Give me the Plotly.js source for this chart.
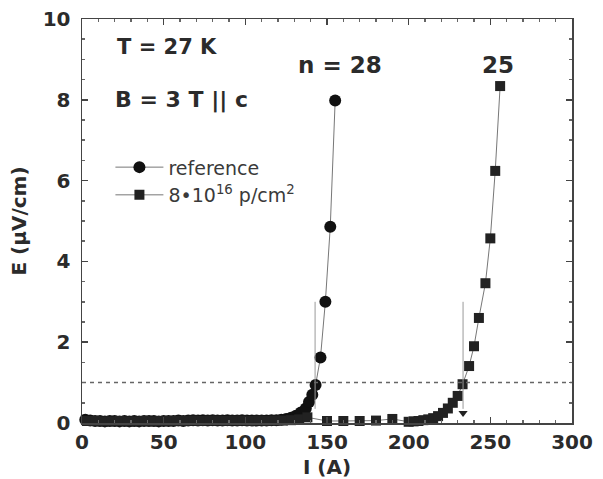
<!DOCTYPE html>
<html>
<head>
<meta charset="utf-8">
<script src="https://cdn.plot.ly/plotly-3.0.1.min.js"></script>
<style>html,body{margin:0;padding:0;background:#fff;}#chart{width:603px;height:479px;}</style>
</head>
<body>
<div id="chart"></div>
<script>
// Reference sample (circles)
var refI = [2,5,8,11,14,17,20,23,26,29,32,35,38,41,44,47,50,53,56,59,62,65,68,71,74,77,80,83,86,89,92,95,98,101,104,107,110,113,116,119,122,125,128,131,134,137,139,141,143,146,149,152,155];
var refE = [0.08,0.06,0.05,0.05,0.04,0.05,0.05,0.04,0.05,0.04,0.05,0.04,0.05,0.05,0.05,0.04,0.05,0.05,0.05,0.06,0.05,0.06,0.07,0.06,0.07,0.06,0.07,0.06,0.06,0.07,0.06,0.06,0.07,0.06,0.06,0.06,0.06,0.06,0.07,0.07,0.08,0.10,0.13,0.18,0.26,0.36,0.52,0.70,0.94,1.62,3.00,4.86,7.98];
// Irradiated sample 8e16 p/cm^2 (squares)
var irrI = [3,8,13,18,23,28,33,38,43,48,53,58,63,68,73,78,83,88,93,98,103,108,113,118,123,128,133,138,150,160,170,180,190,200,203,206,209,212,215,218,221,224,227,230,233,237,240,243,247,250,253,256];
var irrE = [0.05,0.05,0.04,0.04,0.05,0.04,0.04,0.05,0.04,0.05,0.05,0.05,0.05,0.06,0.05,0.06,0.06,0.05,0.06,0.06,0.05,0.06,0.05,0.06,0.06,0.07,0.09,0.14,0.05,0.05,0.05,0.06,0.10,0.03,0.04,0.05,0.07,0.09,0.12,0.17,0.25,0.36,0.50,0.67,0.96,1.41,1.90,2.60,3.46,4.57,6.24,8.34];
// Critical current markers
var icI = [142.7, 233.3];
var icTop = [3.0, 3.0];
var icBottom = [0.35, 0.35];
var arrowI = [233.3];
var arrowE = [0.25];
var criterionE = 1;

var legendNames = ['reference', '8\u202210<sup>16</sup> p/cm<sup>2</sup>'];
var labels = {n1: 'n = 28', n2: '25', T: 'T = 27 K', B: 'B = 3 T || c'};

var dark = '#2b2b2b';
var traces = [
  {x: refI, y: refE, name: legendNames[0], mode: 'lines+markers', cliponaxis: false,
   line: {color: '#777', width: 1}, marker: {symbol: 'circle', size: 12, color: '#111'}},
  {x: irrI, y: irrE, name: legendNames[1], mode: 'lines+markers', cliponaxis: false,
   line: {color: '#777', width: 1}, marker: {symbol: 'square', size: 10, color: '#222'}},
  {x: [icI[0], icI[0], null, icI[1], icI[1]], y: [icBottom[0], icTop[0], null, icBottom[1], icTop[1]],
   mode: 'lines', showlegend: false, hoverinfo: 'skip', line: {color: '#999', width: 1}},
  {x: arrowI, y: arrowE, mode: 'markers', showlegend: false, cliponaxis: false,
   marker: {symbol: 'triangle-down', size: 8, color: '#222'}}
];

var tickFont = {family: 'DejaVu Sans', size: 20, color: dark, weight: 'bold'};
var layout = {
  width: 603, height: 479,
  margin: {l: 82, r: 31, t: 19, b: 56},
  paper_bgcolor: '#fff', plot_bgcolor: '#fff',
  showlegend: true,
  legend: {x: 0.058, y: 0.68, xanchor: 'left', yanchor: 'top', bgcolor: 'rgba(0,0,0,0)', itemwidth: 48,
           font: {family: 'DejaVu Sans', size: 19, color: '#3a3a3a'}, tracegroupgap: 0},
  xaxis: {range: [0, 300], dtick: 50, tick0: 0, ticks: 'inside', ticklen: 6, tickwidth: 1.5, tickcolor: '#444',
          showline: true, linecolor: '#444', linewidth: 1.5, mirror: 'allticks', showgrid: false, zeroline: false,
          minor: {dtick: 10, ticks: 'inside', ticklen: 3, tickcolor: '#666', showgrid: false},
          tickfont: tickFont,
          title: {text: 'I (A)', font: {family: 'DejaVu Sans', size: 20, color: dark, weight: 'bold'}, standoff: 7}},
  yaxis: {range: [0, 10], dtick: 2, tick0: 0, ticks: 'inside', ticklen: 6, tickwidth: 1.5, tickcolor: '#444',
          showline: true, linecolor: '#444', linewidth: 1.5, mirror: 'allticks', showgrid: false, zeroline: false,
          minor: {dtick: 0.5, ticks: 'inside', ticklen: 3, tickcolor: '#666', showgrid: false},
          tickfont: tickFont, ticklabelstandoff: 6,
          title: {text: 'E (\u00b5V/cm)', font: {family: 'DejaVu Sans', size: 20, color: dark, weight: 'bold'}, standoff: 10}},
  shapes: [
    {type: 'line', xref: 'paper', x0: 0, x1: 1, yref: 'y', y0: criterionE, y1: criterionE,
     line: {color: '#666', width: 1.5, dash: '4px,4px'}}
  ],
  annotations: [
    {text: labels.T, xref: 'paper', yref: 'paper', x: 0.067, y: 0.93, xanchor: 'left', yanchor: 'middle', showarrow: false,
     font: {family: 'DejaVu Sans', size: 21, color: dark, weight: 'bold'}},
    {text: labels.B, xref: 'paper', yref: 'paper', x: 0.063, y: 0.80, xanchor: 'left', yanchor: 'middle', showarrow: false,
     font: {family: 'DejaVu Sans', size: 22, color: dark, weight: 'bold'}},
    {text: labels.n1, xref: 'paper', yref: 'paper', x: 0.527, y: 0.886, xanchor: 'center', yanchor: 'middle', showarrow: false,
     font: {family: 'DejaVu Sans', size: 23, color: dark, weight: 'bold'}},
    {text: labels.n2, xref: 'paper', yref: 'paper', x: 0.849, y: 0.886, xanchor: 'center', yanchor: 'middle', showarrow: false,
     font: {family: 'DejaVu Sans', size: 23, color: dark, weight: 'bold'}}
  ]
};
Plotly.newPlot('chart', traces, layout, {staticPlot: true, displayModeBar: false});
</script>
</body>
</html>
